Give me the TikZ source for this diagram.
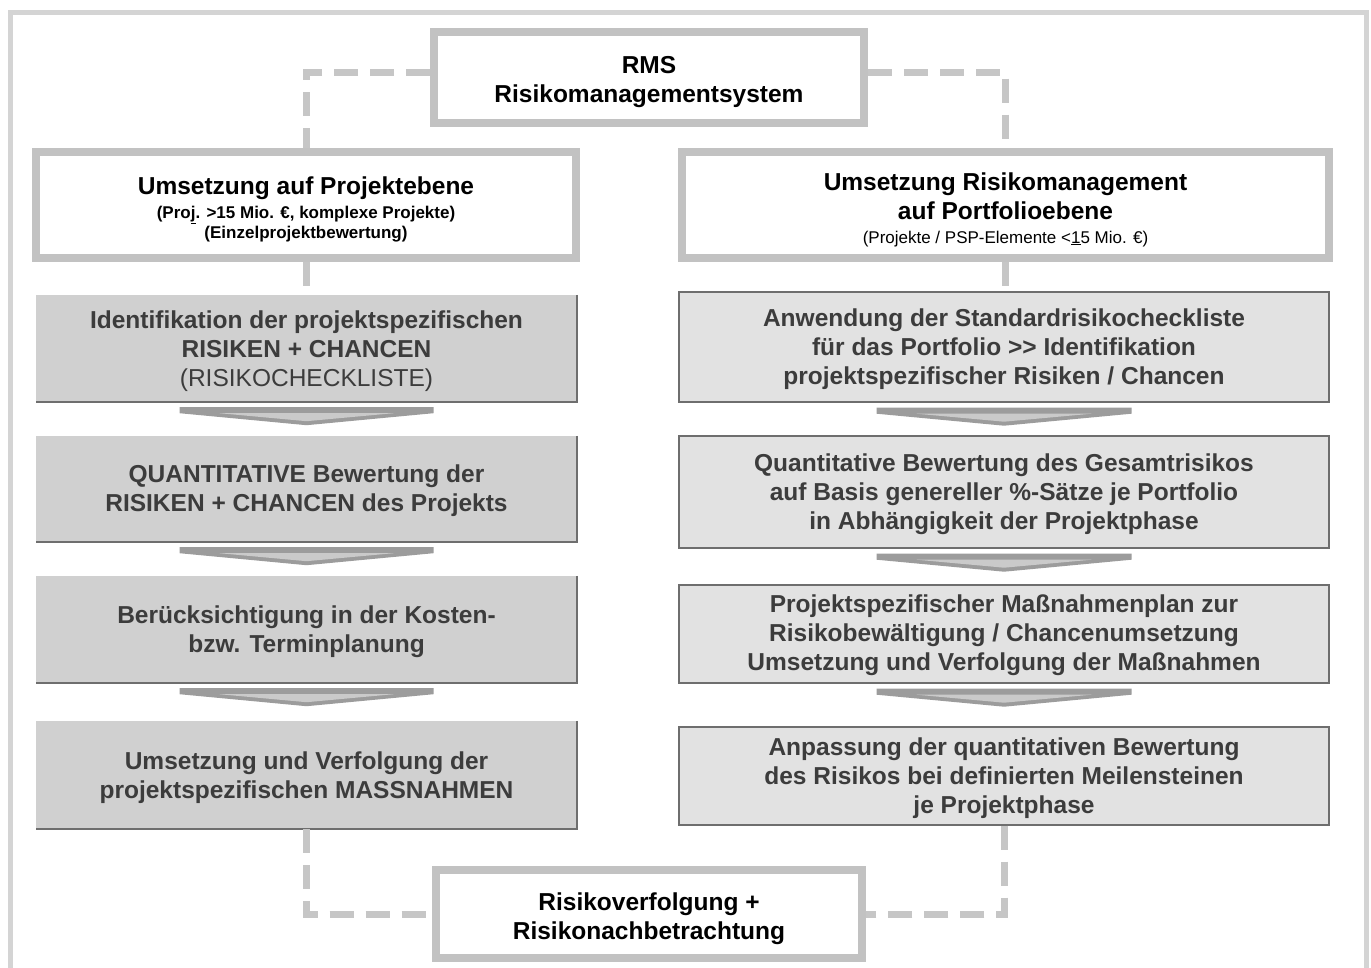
\documentclass[tikz,border=0pt]{standalone}
\usepackage{fontspec}
\setmainfont{Liberation Sans}
\usetikzlibrary{calc}
\definecolor{framec}{HTML}{D4D4D4}
\definecolor{hdrline}{HTML}{C2C2C2}
\definecolor{dashc}{HTML}{C6C6C6}
\definecolor{lfill}{HTML}{D0D0D0}
\definecolor{rfill}{HTML}{E2E2E2}
\definecolor{edgec}{HTML}{6E6E6E}
\definecolor{txtc}{HTML}{3C3C3C}
\definecolor{chevd}{HTML}{9C9C9C}
\definecolor{chevl}{HTML}{CACACA}
\newcommand\chev[3]{%
 \fill[chevd] let \p1=(#1.south) in
   (\x1-#3pt,\y1-5pt) -- (\x1+#3pt,\y1-5pt) -- (\x1+#3pt,\y1-11pt) -- (\x1,\y1-23pt) -- (\x1-#3pt,\y1-11pt) -- cycle;
 \fill[chevl] let \p1=(#1.south) in
   (\x1-#3pt+40pt,\y1-11pt) -- (\x1+#3pt-40pt,\y1-11pt) -- (\x1,\y1-19pt) -- cycle;
}
\newcommand\smalltxt{\fontsize{17}{20}\selectfont}
\newcommand\dn[1]{\rule{0pt}{\dimexpr 18pt+#1pt\relax}}
\begin{document}
\begin{tikzpicture}[x=1pt,y=-1pt,
 bigfont/.style={font=\bfseries\fontsize{24.5}{29}\selectfont},
 hdr/.style={draw=hdrline, line width=8pt, fill=white, align=center, inner sep=0pt, text=black, bigfont},
 lbox/.style={fill=lfill, minimum width=541pt, align=center, inner sep=0pt, text=txtc, bigfont},
 rbox/.style={fill=rfill, draw=edgec, line width=1.4pt, minimum width=650pt, align=center, inner sep=0pt, text=txtc, bigfont},
 link/.style={draw=dashc, line width=7pt, dash pattern=on 24pt off 12pt},
 edgeline/.style={draw=edgec, line width=1.6pt}
]
\useasboundingbox (0,0) rectangle (1371,967);
\fill[white] (0,0) rectangle (1371,967);
\draw[framec, line width=5pt] (10,990) -- (10,12) -- (1366,12) -- (1366,990);

% header boxes
\node[hdr, minimum width=430pt, minimum height=91pt] (rms) at (649,77.5) {\dn{8}RMS\\Risikomanagementsystem};
\node[hdr, minimum width=540pt, minimum height=106pt] (lh) at (306,205)
 {\dn{9}Umsetzung auf Projektebene\\[-5pt]{\smalltxt (Pro\underline{j}. >15 Mio. €, komplexe Projekte)}\\[-9pt]{\smalltxt (Einzelprojektbewertung)}};
\node[hdr, minimum width=647pt, minimum height=106pt] (rh) at (1005.5,205)
 {\dn{9}Umsetzung Risikomanagement\\auf Portfolioebene\\[-5pt]{\smalltxt\mdseries (Projekte / PSP-Elemente <\underline{1}5 Mio. €)}};
\node[hdr, minimum width=426pt, minimum height=88pt] (bot) at (649,914) {\dn{9}Risikoverfolgung +\\Risikonachbetrachtung};

% left column
\node[lbox, minimum height=107pt] (L1) at (306.5,348.5) {\dn{5}Identifikation der projektspezifischen\\RISIKEN + CHANCEN\\{\mdseries (RISIKOCHECKLISTE)}};
\node[lbox, minimum height=106pt] (L2) at (306.5,489) {\dn{4}QUANTITATIVE Bewertung der\\RISIKEN + CHANCEN des Projekts};
\node[lbox, minimum height=107pt] (L3) at (306.5,629.5) {\dn{5}Berücksichtigung in der Kosten-\\bzw. Terminplanung};
\node[lbox, minimum height=108pt] (L4) at (306.5,775) {\dn{5}Umsetzung und Verfolgung der\\projektspezifischen MASSNAHMEN};
\foreach \n in {L1,L2,L3,L4}{
 \draw[edgeline] (\n.north east) -- (\n.south east) -- (\n.south west);
}

% right column
\node[rbox, minimum height=110pt] (R1) at (1004,347) {\dn{4}Anwendung der Standardrisikocheckliste\\für das Portfolio >{}> Identifikation\\projektspezifischer Risiken / Chancen};
\node[rbox, minimum height=112pt] (R2) at (1004,492) {\dn{4}Quantitative Bewertung des Gesamtrisikos\\auf Basis genereller \%-Sätze je Portfolio\\in Abhängigkeit der Projektphase};
\node[rbox, minimum height=98pt] (R3) at (1004,634) {\dn{3}Projektspezifischer Maßnahmenplan zur\\Risikobewältigung / Chancenumsetzung\\Umsetzung und Verfolgung der Maßnahmen};
\node[rbox, minimum height=98pt] (R4) at (1004,776) {\dn{4}Anpassung der quantitativen Bewertung\\des Risikos bei definierten Meilensteinen\\je Projektphase};

% chevrons
\chev{L1}{L2}{127}
\chev{L2}{L3}{127}
\chev{L3}{L4}{127}
\chev{R1}{R2}{127.5}
\chev{R2}{R3}{127.5}
\chev{R3}{R4}{127.5}

% dashed connectors
\draw[link] ([yshift=5.5pt]rms.west) -| (lh.north);
\draw[link] ([yshift=5.5pt]rms.east) -| (rh.north);
\draw[link] (lh.south) -- (lh.south |- L1.north);
\draw[link] (rh.south) -- (rh.south |- R1.north);
\draw[link] (L4.south) |- (bot.west);
\draw[link] (R4.south) |- (bot.east);
\end{tikzpicture}
\end{document}
